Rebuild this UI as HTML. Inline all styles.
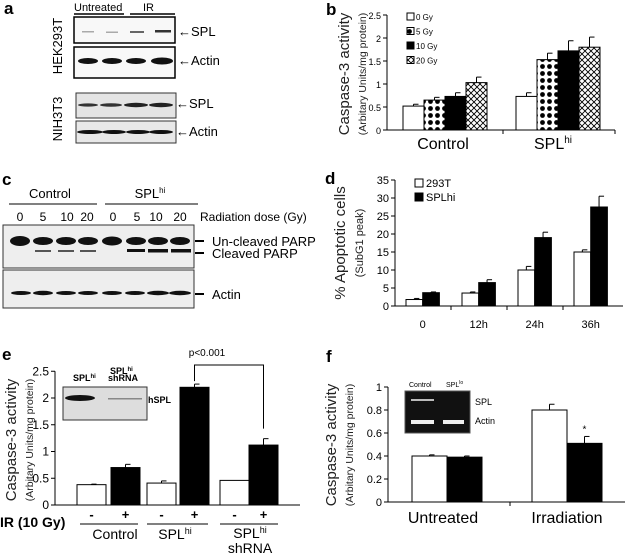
<!DOCTYPE html>
<html><head><meta charset="utf-8"><style>
body{margin:0;background:#fff}
svg{display:block;font-family:"Liberation Sans",Arial,sans-serif}
</style></head><body>
<svg id="fig" width="627" height="556" viewBox="0 0 627 556">
<defs>
<pattern id="dots" width="7" height="7" patternUnits="userSpaceOnUse"><rect width="7" height="7" fill="#fff"/><circle cx="3.5" cy="3.5" r="2.4" fill="#000"/></pattern>
<pattern id="hatch" width="6" height="6" patternUnits="userSpaceOnUse"><rect width="6" height="6" fill="#fff"/><path d="M0 0L6 6M6 0L0 6" stroke="#000" stroke-width="0.9"/></pattern>
</defs>

<!-- Panel a -->
<g>
<text x="4" y="14" font-size="17" font-weight="bold">a</text>
<text x="74" y="11" font-size="11">Untreated</text>
<text x="143" y="11" font-size="11">IR</text>
<line x1="74" y1="14" x2="124" y2="14" stroke="#000" stroke-width="1.5"/>
<line x1="130" y1="14" x2="175" y2="14" stroke="#000" stroke-width="1.5"/>
<rect x="74" y="17" width="101" height="26" fill="#f8f8f8" stroke="#000" stroke-width="1.5"/>
<rect x="82" y="31" width="12" height="1.5" fill="#aaa"/><rect x="106" y="31.5" width="12" height="1.5" fill="#aaa"/>
<rect x="130" y="31" width="14" height="2" fill="#666"/><rect x="155" y="30" width="16" height="2.5" fill="#333"/>
<rect x="74" y="47" width="101" height="31" fill="#f8f8f8" stroke="#000" stroke-width="1.5"/>
<ellipse cx="88" cy="61" rx="10" ry="3" fill="#111"/><ellipse cx="112" cy="61" rx="10" ry="3" fill="#111"/><ellipse cx="136" cy="61" rx="10" ry="3" fill="#111"/><ellipse cx="162" cy="61" rx="11" ry="3.5" fill="#111"/>
<text x="178" y="36" font-size="13" font-weight="bold">←<tspan font-weight="normal">SPL</tspan></text>
<text x="178" y="65" font-size="13" font-weight="bold">←<tspan font-weight="normal">Actin</tspan></text>
<text transform="translate(62,46) rotate(-90)" font-size="13" text-anchor="middle">HEK293T</text>
<rect x="76" y="93" width="100" height="25" fill="#e4e4e4" stroke="#333"/>
<ellipse cx="88" cy="105" rx="10" ry="1.6" fill="#333"/><ellipse cx="111" cy="105" rx="11" ry="1.8" fill="#333"/><ellipse cx="136" cy="105" rx="12" ry="2.2" fill="#222"/><ellipse cx="161" cy="105" rx="12" ry="2.2" fill="#222"/>
<rect x="76" y="121" width="100" height="22" fill="#e8e8e8" stroke="#333"/>
<ellipse cx="90" cy="132" rx="13" ry="2" fill="#111"/><ellipse cx="114" cy="132" rx="12" ry="2" fill="#111"/><ellipse cx="138" cy="132" rx="12" ry="2" fill="#111"/><ellipse cx="161" cy="132" rx="12" ry="2" fill="#111"/>
<text x="176" y="108" font-size="13" font-weight="bold">←<tspan font-weight="normal">SPL</tspan></text>
<text x="176" y="136" font-size="13" font-weight="bold">←<tspan font-weight="normal">Actin</tspan></text>
<text transform="translate(62,119) rotate(-90)" font-size="13" text-anchor="middle">NIH3T3</text>
</g>

<!-- Panel c -->
<g>
<text x="2" y="185" font-size="17" font-weight="bold">c</text>
<text x="50" y="198" font-size="13" text-anchor="middle">Control</text>
<text x="150" y="198" font-size="13" text-anchor="middle">SPL<tspan font-size="8" dy="-5">hi</tspan></text>
<line x1="9" y1="204" x2="97" y2="204" stroke="#000"/><line x1="105" y1="204" x2="198" y2="204" stroke="#000"/>
<g font-size="12" text-anchor="middle">
<text x="20" y="221">0</text><text x="43" y="221">5</text><text x="67" y="221">10</text><text x="87" y="221">20</text><text x="113" y="221">0</text><text x="137" y="221">5</text><text x="156" y="221">10</text><text x="180" y="221">20</text>
</g>
<text x="200" y="221" font-size="12">Radiation dose (Gy)</text>
<rect x="3" y="225" width="191" height="43" fill="#eee" stroke="#333"/>
<g fill="#111">
<ellipse cx="20" cy="241" rx="10" ry="5"/><ellipse cx="43" cy="241" rx="10" ry="4"/><ellipse cx="66" cy="241" rx="10" ry="4"/><ellipse cx="88" cy="241" rx="10" ry="4"/>
<ellipse cx="112" cy="241" rx="10" ry="4.5"/><ellipse cx="136" cy="241" rx="10" ry="4"/><ellipse cx="158" cy="241" rx="10" ry="4"/><ellipse cx="180" cy="241" rx="10" ry="4"/>
</g>
<g fill="#555"><rect x="35" y="250" width="16" height="2"/><rect x="58" y="250" width="16" height="2"/><rect x="80" y="250" width="16" height="2"/></g>
<g fill="#111"><rect x="127" y="249" width="18" height="3"/><rect x="148" y="249" width="20" height="3.5"/><rect x="171" y="249" width="20" height="3.5"/></g>
<rect x="3" y="270" width="191" height="38" fill="#eee" stroke="#333"/>
<g fill="#111"><ellipse cx="21" cy="293" rx="10" ry="2"/><ellipse cx="43" cy="293" rx="10" ry="2.2"/><ellipse cx="66" cy="293" rx="10" ry="2"/><ellipse cx="88" cy="293" rx="10" ry="2"/><ellipse cx="112" cy="293" rx="10" ry="2"/><ellipse cx="135" cy="293" rx="10" ry="2"/><ellipse cx="158" cy="293" rx="11" ry="2.2"/><ellipse cx="180" cy="293" rx="11" ry="2.2"/></g>
<rect x="195" y="240" width="9" height="2" fill="#000"/><rect x="195" y="252" width="9" height="2" fill="#000"/><rect x="195" y="293" width="9" height="2" fill="#000"/>
<text x="212" y="246" font-size="13">Un-cleaved PARP</text>
<text x="212" y="258" font-size="13">Cleaved PARP</text>
<text x="212" y="299" font-size="13">Actin</text>
</g>

<!-- Panel b -->
<g id="pb">
<text x="326" y="15" font-size="17" font-weight="bold">b</text>
<text transform="translate(349,74) rotate(-90)" font-size="15" text-anchor="middle" fill="#222">Caspase-3 activity</text>
<text transform="translate(366,74) rotate(-90)" font-size="10.5" text-anchor="middle" fill="#222">(Arbitary Units/mg protein)</text>
<text x="443" y="149" font-size="16" text-anchor="middle">Control</text>
<text x="553" y="149" font-size="16" text-anchor="middle">SPL<tspan font-size="10" dy="-6">hi</tspan></text>
</g>

<!-- Panel d -->
<g id="pd">
<text x="325" y="184" font-size="17" font-weight="bold">d</text>
<text transform="translate(345,243) rotate(-90)" font-size="15" text-anchor="middle" fill="#222">% Apoptotic cells</text>
<text transform="translate(363,243) rotate(-90)" font-size="11" text-anchor="middle" fill="#222">(SubG1 peak)</text>
</g>

<!-- Panel e -->
<g id="pe">
<text x="2" y="360" font-size="17" font-weight="bold">e</text>
<text transform="translate(16,440) rotate(-90)" font-size="15" text-anchor="middle" fill="#222">Caspase-3 activity</text>
<text transform="translate(33,440) rotate(-90)" font-size="10.5" text-anchor="middle" fill="#222">(Arbitary Units/mg protein)</text>
<rect x="63" y="387" width="84" height="33" fill="#ddd" stroke="#333"/>
<ellipse cx="80" cy="398" rx="15" ry="3" fill="#111"/><rect x="108" y="398" width="34" height="1.5" fill="#888"/>
<text x="73" y="381" font-size="9" font-weight="bold">SPL<tspan font-size="6" dy="-3">hi</tspan></text>
<text x="110" y="374" font-size="9" font-weight="bold">SPL<tspan font-size="6" dy="-3">hi</tspan><tspan x="108" dy="10">shRNA</tspan></text>
<text x="148" y="403" font-size="9" font-weight="bold">hSPL</text>
<text x="207" y="356" font-size="10" text-anchor="middle">p&lt;0.001</text>
<text x="0" y="527" font-size="14" font-weight="bold">IR (10 Gy)</text>
<line x1="80" y1="524" x2="138" y2="524" stroke="#000"/><line x1="147" y1="524" x2="208" y2="524" stroke="#000"/><line x1="220" y1="524" x2="278" y2="524" stroke="#000"/>
<text x="115" y="539" font-size="14" text-anchor="middle">Control</text>
<text x="175" y="539" font-size="14" text-anchor="middle">SPL<tspan font-size="9" dy="-5">hi</tspan></text>
<text x="250" y="538" font-size="14" text-anchor="middle">SPL<tspan font-size="9" dy="-5">hi</tspan><tspan x="250" dy="20">shRNA</tspan></text>
</g>

<!-- Panel f -->
<g id="pf">
<text x="326" y="362" font-size="17" font-weight="bold">f</text>
<text transform="translate(336,445) rotate(-90)" font-size="15" text-anchor="middle" fill="#222">Caspase-3 activity</text>
<text transform="translate(353,445) rotate(-90)" font-size="10.5" text-anchor="middle" fill="#222">(Arbitary Units/mg protein)</text>
<rect x="405" y="391" width="65" height="42" fill="#111" stroke="#555"/>
<rect x="411" y="399" width="23" height="2" fill="#bbb"/><rect x="411" y="420" width="23" height="4" fill="#eee"/><rect x="443" y="420" width="21" height="4" fill="#eee"/>
<text x="409" y="387" font-size="7">Control</text>
<text x="446" y="387" font-size="7">SPL<tspan font-size="5" dy="-3">lo</tspan></text>
<text x="475" y="405" font-size="9">SPL</text>
<text x="475" y="424" font-size="9">Actin</text>
<text x="443" y="523" font-size="16" text-anchor="middle">Untreated</text>
<text x="567" y="523" font-size="16" text-anchor="middle">Irradiation</text>
</g>
</svg>
<script>
// Panel b data
const bCategories = ["Control", "SPLhi"];
const bSeries = ["0 Gy", "5 Gy", "10 Gy", "20 Gy"];
const bValues = [[0.52, 0.65, 0.73, 1.03], [0.73, 1.53, 1.72, 1.80]];
const bErrors = [[0.04, 0.06, 0.08, 0.12], [0.08, 0.14, 0.22, 0.22]];
const bTicks = [0, 0.5, 1, 1.5, 2, 2.5];
const bTickLabels = ["0", "0.5", "1", "1.5", "2", "2.5"];
// Panel d data
const dCategories = ["0", "12h", "24h", "36h"];
const dSeries = ["293T", "SPLhi"];
const dValues293T = [1.8, 3.6, 10, 15];
const dErrors293T = [0.3, 0.3, 1.0, 0.6];
const dValuesSPL = [3.7, 6.5, 19, 27.5];
const dErrorsSPL = [0.2, 0.8, 1.5, 3.0];
const dTicks = [0, 5, 10, 15, 20, 25, 30, 35];
// Panel e data
const eIR = ["-", "+", "-", "+", "-", "+"];
const eValues = [0.38, 0.70, 0.41, 2.20, 0.46, 1.12];
const eErrors = [0.01, 0.06, 0.04, 0.06, 0.0, 0.12];
const eTicks = [0, 0.5, 1, 1.5, 2, 2.5];
// Panel f data
const fCategories = ["Untreated", "Irradiation"];
const fValuesControl = [0.40, 0.80];
const fValuesSPLlo = [0.39, 0.51];
const fErrorsControl = [0.01, 0.05];
const fErrorsSPLlo = [0.01, 0.06];
const fTicks = [0, 0.2, 0.4, 0.6, 0.8, 1];
const fTickLabels = ["0", "0.2", "0.4", "0.6", "0.8", "1"];

const NS = "http://www.w3.org/2000/svg";
function mk(parent, tag, attrs, txt) {
  const e = document.createElementNS(NS, tag);
  for (const k in attrs) e.setAttribute(k, attrs[k]);
  if (txt !== undefined) e.textContent = txt;
  parent.appendChild(e);
  return e;
}
function axisY(g, x, y0, scale, ticks, labels, fs, name) {
  const ax = mk(g, "line", {x1: x, y1: y0, x2: x, y2: scale(ticks[ticks.length - 1]), stroke: "#000"});
  
  
  ticks.forEach((t, i) => {
    mk(g, "line", {x1: x - 4, y1: scale(t), x2: x, y2: scale(t), stroke: "#000"});
    const tl = mk(g, "text", {x: x - 6, y: scale(t) + 4, "font-size": fs, "text-anchor": "end"}, labels[i]);
    
    
  });
}
function bar(g, x, w, v, err, scale, fill, name) {
  const y = scale(v), y0 = scale(0);
  if (err > 0) {
    mk(g, "line", {x1: x + w / 2, y1: y, x2: x + w / 2, y2: scale(v + err), stroke: "#000"});
    mk(g, "line", {x1: x + w / 2, y1: scale(v + err), x2: x + w / 2 + 5, y2: scale(v + err), stroke: "#000"});
  }
  const r = mk(g, "rect", {x: x, y: y, width: w, height: y0 - y, fill: fill, stroke: "#000", "stroke-width": 1});
  
  
  return r;
}

// ---- Panel b
(function () {
  const g = document.getElementById("pb");
  const y0 = 130, ppu = 46, ax = 387;
  const sy = v => y0 - v * ppu;
  const fills = ["#fff", "url(#dots)", "#000", "url(#hatch)"];
  const gx = [403, 516], bw = 21;
  bCategories.forEach((c, ci) => {
    bValues[ci].forEach((v, si) => bar(g, gx[ci] + si * bw, bw, v, bErrors[ci][si], sy, fills[si], 'bar-b-' + ci + '-' + si));
  });
  axisY(g, ax, y0, sy, bTicks, bTickLabels, 9, 'b');
  mk(g, "line", {x1: ax, y1: y0, x2: 615, y2: y0, stroke: "#000"});
  mk(g, "line", {x1: 503, y1: y0, x2: 503, y2: y0 + 4, stroke: "#000"});
  mk(g, "line", {x1: 615, y1: y0, x2: 615, y2: y0 + 4, stroke: "#000"});
  bSeries.forEach((s, i) => {
    const ly = 17 + i * 14.5;
    const r = mk(g, "rect", {x: 407, y: ly - 4, width: 7, height: 7, fill: fills[i], stroke: "#000"});
    
    
    const t = mk(g, "text", {x: 416, y: ly + 3, "font-size": 8}, s);
    
    
  });
})();

// ---- Panel d
(function () {
  const g = document.getElementById("pd");
  const y0 = 306, ppu = 3.6, ax = 395;
  const sy = v => y0 - v * ppu;
  const bw = 16.7, gx0 = 406, gs = 56;
  dCategories.forEach((c, i) => {
    const x = gx0 + i * gs;
    bar(g, x, bw, dValues293T[i], dErrors293T[i], sy, "#fff", 'bar-d-293t-' + i);
    bar(g, x + bw, bw, dValuesSPL[i], dErrorsSPL[i], sy, "#000", 'bar-d-splhi-' + i);
    const t = mk(g, "text", {x: x + bw, y: 328, "font-size": 11, "text-anchor": "middle"}, c);
    
    
    if (i > 0) mk(g, "line", {x1: x - 11, y1: y0, x2: x - 11, y2: y0 + 4, stroke: "#000"});
  });
  axisY(g, ax, y0, sy, dTicks, dTicks.map(String), 11, 'd');
  mk(g, "line", {x1: ax, y1: y0, x2: 623, y2: y0, stroke: "#000"});
  const lf = ["#fff", "#000"];
  dSeries.forEach((s, i) => {
    const ly = 183 + i * 14;
    const r = mk(g, "rect", {x: 415, y: ly - 4, width: 8, height: 8, fill: lf[i], stroke: "#000"});
    
    
    const t = mk(g, "text", {x: 426, y: ly + 4, "font-size": 11}, s);
    
    
  });
})();

// ---- Panel e
(function () {
  const g = document.getElementById("pe");
  const y0 = 505, ppu = 53.5, ax = 55;
  const sy = v => y0 - v * ppu;
  const xs = [77, 111, 147, 180, 220, 249], bw = 29;
  eValues.forEach((v, i) => {
    bar(g, xs[i], bw, v, eErrors[i], sy, i % 2 ? "#000" : "#fff", 'bar-e-' + i);
    const t = mk(g, "text", {x: xs[i] + bw / 2, y: 519, "font-size": 13, "font-weight": "bold", "text-anchor": "middle"}, eIR[i]);
    
    
  });
  axisY(g, ax, y0, sy, eTicks, eTicks.map(String), 12, 'e');
  mk(g, "line", {x1: ax, y1: y0, x2: 300, y2: y0, stroke: "#000"});
  const yt = 365;
  const lx = xs[3] + bw / 2, rx = xs[5] + bw / 2;
  const br = mk(g, "path", {d: "M" + lx + " " + (sy(eValues[3] + eErrors[3]) - 3) + "V" + yt + "H" + rx + "V" + (sy(eValues[5] + eErrors[5]) - 10), fill: "none", stroke: "#000"});
  
  
})();

// ---- Panel f
(function () {
  const g = document.getElementById("pf");
  const y0 = 502, ppu = 115, ax = 388;
  const sy = v => y0 - v * ppu;
  const gx = [412, 532], bw = 35;
  fCategories.forEach((c, i) => {
    bar(g, gx[i], bw, fValuesControl[i], fErrorsControl[i], sy, "#fff", 'bar-f-control-' + i);
    bar(g, gx[i] + bw, bw, fValuesSPLlo[i], fErrorsSPLlo[i], sy, "#000", 'bar-f-splo-' + i);
  });
  const st = mk(g, "text", {x: gx[1] + bw * 1.5, y: sy(fValuesSPLlo[1] + fErrorsSPLlo[1]) - 4, "font-size": 10, "text-anchor": "middle"}, "*");
  
  
  axisY(g, ax, y0, sy, fTicks, fTickLabels, 11, 'f');
  mk(g, "line", {x1: ax, y1: y0, x2: 625, y2: y0, stroke: "#000"});
  mk(g, "line", {x1: 510, y1: y0, x2: 510, y2: y0 + 4, stroke: "#000"});
})();
</script>
</body></html>
